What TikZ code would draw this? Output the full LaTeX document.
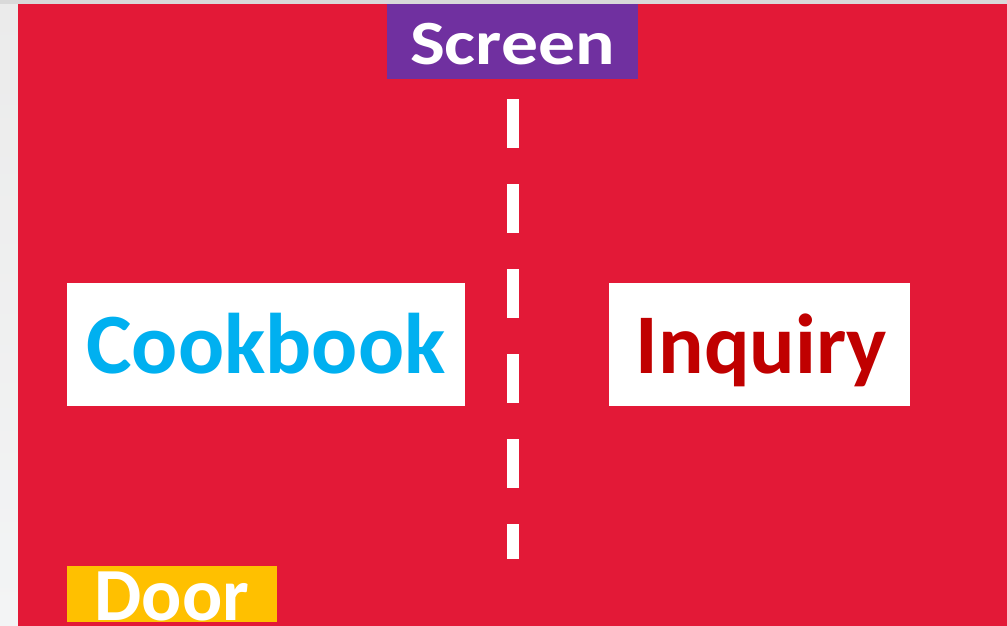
\documentclass[tikz,border=0pt]{standalone}
\usepackage{fontspec}
\setmainfont{Carlito}
\definecolor{bgred}{RGB}{227,25,55}
\definecolor{scrpurple}{RGB}{112,48,160}
\definecolor{dooryellow}{RGB}{255,192,0}
\definecolor{cookcyan}{RGB}{0,176,240}
\definecolor{inqred}{RGB}{192,0,0}
\definecolor{stripgray}{RGB}{235,235,235}
\definecolor{topgray}{RGB}{217,217,217}
\tikzset{
  labelbox/.style={anchor=north west, inner sep=0pt, outer sep=0pt, align=center, font=\bfseries},
  screendash/.style={draw=white, line width=12pt, dash pattern=on 48.5pt off 36.5pt}
}
\begin{document}
\begin{tikzpicture}[x=1pt,y=-1pt]
\useasboundingbox (0,0) rectangle (1007,626);
% backgrounds
\shade[top color=stripgray, bottom color={rgb,255:red,243;green,244;blue,245}] (0,0) rectangle (18,626);
\fill[topgray] (0,0) rectangle (1007,4);
\fill[bgred] (18,4) rectangle (1007,626);
% screen line
\coordinate (lineTop) at (513,99);
\coordinate (lineBot) at (513,559);
\draw[screendash] (lineTop) -- (lineBot);
% labels
\node[labelbox, fill=scrpurple, text=white, text width=251pt, text height=61pt, text depth=14pt,
      font=\bfseries\fontsize{63}{63}\selectfont] (screen) at (387,4) {\scalebox{1.17}[1]{Screen}};
\node[labelbox, fill=white, text=cookcyan, text width=398pt, text height=90pt, text depth=33pt,
      font=\bfseries\fontsize{86}{86}\selectfont] (cookbook) at (67,283) {Cookbook};
\node[labelbox, fill=white, text=inqred, text width=301pt, text height=90pt, text depth=33pt,
      font=\bfseries\fontsize{85}{85}\selectfont] (inquiry) at (609,283) {\hspace*{4pt}Inquiry};
\node[labelbox, fill=dooryellow, text=white, text width=210pt, text height=54pt, text depth=2pt,
      font=\bfseries\fontsize{75}{75}\selectfont] (door) at (67,566) {Door};
\end{tikzpicture}
\end{document}
